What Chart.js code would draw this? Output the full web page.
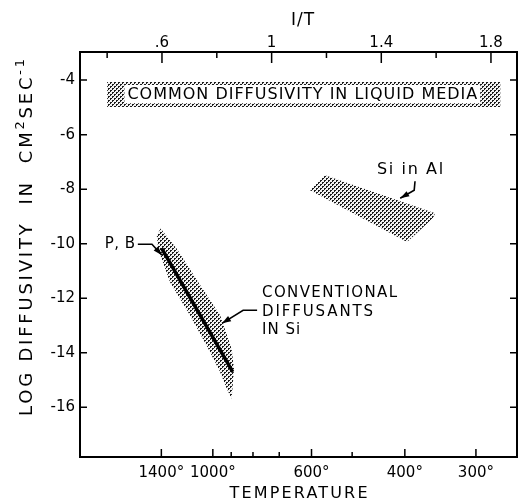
<!DOCTYPE html>
<html>
<head>
<meta charset="utf-8">
<script src="https://cdn.jsdelivr.net/npm/chart.js@4/dist/chart.umd.min.js"></script>
<style>
  body { margin: 0; background: #fff; }
  #wrap { width: 520px; height: 501px; }
</style>
</head>
<body>
<div id="wrap"><canvas id="chart"></canvas></div>
<script>
// bands are outlines in (1/T, log D) space
const liquidX = [0.40, 1.834, 1.834, 0.40, 0.40];
const liquidY = [-4.07, -4.07, -4.99, -4.99, -4.07];
const liquidBoxX = [0.463, 1.761, 1.761, 0.463, 0.463];
const liquidBoxY = [-4.18, -4.18, -4.85, -4.85, -4.18];

const siAlX = [1.140, 1.195, 1.596, 1.589, 1.494, 1.140];
const siAlY = [-8.04, -7.49, -8.88, -9.06, -9.94, -8.04];

const convX = [0.595, 0.654, 0.732, 0.812, 0.854, 0.863, 0.854, 0.836, 0.812, 0.769, 0.702, 0.629, 0.586, 0.581, 0.595];
const convY = [-9.44, -10.18, -11.40, -12.62, -13.85, -14.58, -15.68, -15.31, -14.70, -13.85, -12.62, -11.40, -10.18, -9.69, -9.44];

const pbX = [0.599, 0.858];
const pbY = [-10.17, -14.70];

// axes
const topTicks = [0.4, 0.6, 0.8, 1.0, 1.2, 1.4, 1.6, 1.8];
const topLabels = ['', '.6', '', '1', '', '1.4', '', '1.8'];
const tempTicks = [1400, 1000, 900, 800, 700, 600, 500, 400, 300];
const tempLabels = ['1400°', '1000°', '', '', '', '600°', '', '400°', '300°'];
const yTicks = [-4, -6, -8, -10, -12, -14, -16];
const yLabels = ['-4', '-6', '-8', '-10', '-12', '-14', '-16'];

// leader arrows, in data space
const pbArrowX = [0.512, 0.5635, 0.600];
const pbArrowY = [-10.02, -10.02, -10.42];
const convArrowX = [0.947, 0.896, 0.819];
const convArrowY = [-12.44, -12.44, -12.92];
const siAlArrowX = [1.523, 1.520, 1.469];
const siAlArrowY = [-7.71, -8.04, -8.33];

const FONT = '"DejaVu Sans", "Liberation Sans", sans-serif';

function pts(xs, ys) {
  return xs.map((x, i) => ({ x: x, y: ys[i] }));
}

// halftone dots like the printed figure
const pc = document.createElement('canvas');
pc.width = 4; pc.height = 4;
const pg = pc.getContext('2d');
pg.fillStyle = '#f2f2f2'; pg.fillRect(0, 0, 4, 4);
pg.fillStyle = '#1c1c1c';
[[0, 0], [1, 0], [0, 1], [2, 2], [3, 2], [2, 3]].forEach(p => pg.fillRect(p[0], p[1], 1, 1));
const stipple = pg.createPattern(pc, 'repeat');

function band(xs, ys, bg) {
  return {
    data: pts(xs, ys), showLine: true, fill: 'shape', backgroundColor: bg,
    borderWidth: 0, borderColor: 'rgba(0,0,0,0)', pointRadius: 0, tension: 0
  };
}

function spacedText(c, txt, x, y, width) {
  c.letterSpacing = '0px';
  const w = c.measureText(txt).width;
  c.letterSpacing = ((width - w) / (txt.length - 1)) + 'px';
  c.fillText(txt, x, y);
}

// text with raised, smaller parts, spread over a given width
function richText(c, segs, x, y, width, size) {
  let sum = 0, n = 0;
  c.letterSpacing = '0px';
  segs.forEach(s => {
    c.font = (s[1] ? size * 0.72 : size) + 'px ' + FONT;
    sum += c.measureText(s[0]).width;
    n += s[0].length;
  });
  const sp = (width - sum) / (n - 1);
  c.letterSpacing = sp + 'px';
  segs.forEach(s => {
    c.font = (s[1] ? size * 0.72 : size) + 'px ' + FONT;
    c.fillText(s[0], x, s[1] ? y - size * 0.42 : y);
    c.letterSpacing = '0px';
    x += c.measureText(s[0]).width + sp * s[0].length;
    c.letterSpacing = sp + 'px';
  });
}

const framePlugin = {
  id: 'frame',
  afterDatasetsDraw(chart) {
    const c = chart.ctx, a = chart.chartArea;
    const sx = chart.scales.x, sy = chart.scales.y, st = chart.scales.xTop;
    c.save();
    c.strokeStyle = '#000';
    c.lineWidth = 2;
    c.strokeRect(a.left, a.top, a.right - a.left, a.bottom - a.top);

    // inward tick marks
    c.lineWidth = 1.5;
    c.beginPath();
    st.ticks.forEach((t, i) => {
      const px = st.getPixelForValue(t.value);
      c.moveTo(px, a.top); c.lineTo(px, a.top + (topLabels[i] ? 11 : 6));
    });
    sx.ticks.forEach((t, i) => {
      const px = sx.getPixelForValue(t.value);
      c.moveTo(px, a.bottom); c.lineTo(px, a.bottom - (tempLabels[i] ? 8 : 5));
    });
    sy.ticks.forEach(t => {
      const py = sy.getPixelForValue(t.value);
      c.moveTo(a.left, py); c.lineTo(a.left + 7, py);
      c.moveTo(a.right, py); c.lineTo(a.right - 7, py);
    });
    c.stroke();

    const P = (x, y) => [sx.getPixelForValue(x), sy.getPixelForValue(y)];

    function arrow(xs, ys) {
      const p = xs.map((x, i) => P(x, ys[i]));
      c.lineWidth = 1.6;
      c.beginPath();
      c.moveTo(p[0][0], p[0][1]);
      for (let i = 1; i < p.length; i++) c.lineTo(p[i][0], p[i][1]);
      c.stroke();
      const [x1, y1] = p[p.length - 2], [x2, y2] = p[p.length - 1];
      const ang = Math.atan2(y2 - y1, x2 - x1);
      c.beginPath();
      c.moveTo(x2, y2);
      c.lineTo(x2 - 9 * Math.cos(ang) + 3 * Math.sin(ang), y2 - 9 * Math.sin(ang) - 3 * Math.cos(ang));
      c.lineTo(x2 - 9 * Math.cos(ang) - 3 * Math.sin(ang), y2 - 9 * Math.sin(ang) + 3 * Math.cos(ang));
      c.closePath();
      c.fillStyle = '#000';
      c.fill();
    }
    arrow(pbArrowX, pbArrowY);
    arrow(convArrowX, convArrowY);
    arrow(siAlArrowX, siAlArrowY);

    c.fillStyle = '#000';
    c.textBaseline = 'middle';
    c.textAlign = 'left';

    // liquid media caption, stretched across the white box
    c.font = '16px ' + FONT;
    const [bx0] = P(liquidBoxX[0], 0), [bx1] = P(liquidBoxX[1], 0);
    const [, cy] = P(0, (liquidBoxY[0] + liquidBoxY[2]) / 2);
    spacedText(c, 'COMMON DIFFUSIVITY IN LIQUID MEDIA', bx0 + 3, cy + 1, bx1 - bx0 - 6);

    c.font = '15px ' + FONT;
    c.letterSpacing = '0.5px';
    c.textAlign = 'right';
    let q = P(pbArrowX[0] - 0.008, pbArrowY[0]);
    c.fillText('P, B', q[0], q[1]);

    c.textAlign = 'left';
    c.letterSpacing = '0px';
    q = P(0.965, -11.82);
    spacedText(c, 'CONVENTIONAL', q[0], q[1], 135);
    q = P(0.965, -12.51);
    spacedText(c, 'DIFFUSANTS', q[0], q[1], 111);
    q = P(0.965, -13.17);
    c.letterSpacing = '1px';
    c.fillText('IN Si', q[0], q[1]);

    c.font = '16px ' + FONT;
    c.letterSpacing = '0px';
    q = P(1.505, -7.30);
    spacedText(c, 'Si in Al', q[0] - 33, q[1], 66);

    // axis titles
    c.font = '16px ' + FONT;
    spacedText(c, 'TEMPERATURE', (a.left + a.right) / 2 - 69, 494, 138);
    c.font = '17px ' + FONT;
    c.letterSpacing = '1px';
    c.textAlign = 'center';
    c.fillText('I/T', 303, 21);

    c.translate(26, 238);
    c.rotate(-Math.PI / 2);
    c.textAlign = 'left';
    c.textBaseline = 'alphabetic';
    richText(c, [['LOG DIFFUSIVITY  IN  CM', 0], ['2', 1], ['SEC', 0], ['-1', 1]], -178, 6, 357, 18);
    c.restore();
  }
};

const tickFont = { family: FONT, size: 15 };

new Chart(document.getElementById('chart'), {
  type: 'scatter',
  data: {
    // first dataset is painted last
    datasets: [
      {
        data: pts(pbX, pbY), showLine: true, fill: false,
        borderColor: '#000', borderWidth: 3.5, pointRadius: 0
      },
      band(liquidBoxX, liquidBoxY, '#fff'),
      band(liquidX, liquidY, stipple),
      band(siAlX, siAlY, stipple),
      band(convX, convY, stipple)
    ]
  },
  options: {
    responsive: true,
    maintainAspectRatio: false,
    animation: false,
    layout: { padding: { right: 3, top: 0, bottom: 0, left: 0 } },
    plugins: { legend: { display: false }, tooltip: { enabled: false } },
    scales: {
      x: {
        type: 'linear', position: 'bottom', min: 0.301, max: 1.895,
        afterBuildTicks: s => { s.ticks = tempTicks.map(t => ({ value: 1000 / (t + 273) })); },
        afterFit: s => { s.height = 44; },
        grid: { display: false, drawTicks: false },
        border: { display: false },
        ticks: {
          autoSkip: false, maxRotation: 0, minRotation: 0, padding: 7,
          color: '#000', font: tickFont,
          callback: (v, i) => tempLabels[i]
        }
      },
      xTop: {
        type: 'linear', axis: 'x', position: 'top', min: 0.301, max: 1.895,
        afterBuildTicks: s => { s.ticks = topTicks.map(v => ({ value: v })); },
        afterFit: s => { s.height = 52; },
        grid: { display: false, drawTicks: false },
        border: { display: false },
        ticks: {
          autoSkip: false, maxRotation: 0, minRotation: 0, padding: 0,
          color: '#000', font: tickFont,
          callback: (v, i) => topLabels[i]
        }
      },
      y: {
        type: 'linear', position: 'left', min: -17.82, max: -2.97,
        afterBuildTicks: s => { s.ticks = yTicks.map(v => ({ value: v })); },
        afterFit: s => { s.width = 80; },
        grid: { display: false, drawTicks: false },
        border: { display: false },
        ticks: {
          autoSkip: false, padding: 5, color: '#000', font: tickFont,
          callback: (v, i) => yLabels[i]
        }
      }
    }
  },
  plugins: [framePlugin]
});
</script>
</body>
</html>
